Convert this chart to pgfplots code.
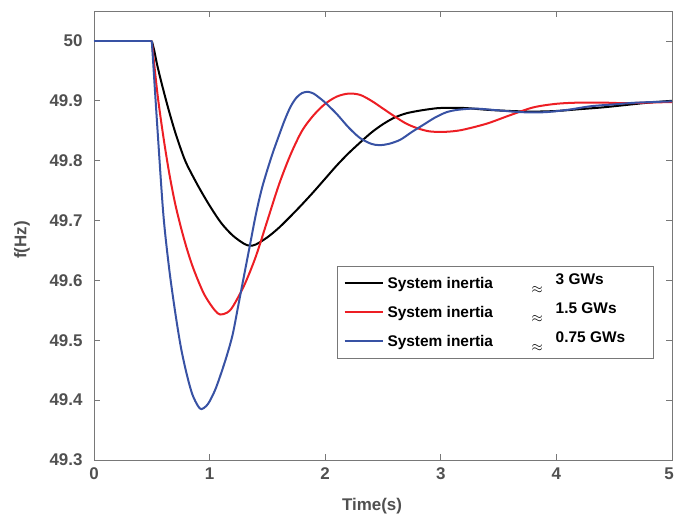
\documentclass[border=0pt]{standalone}
\usepackage{pgfplots}
\pgfplotsset{compat=1.18}
\usepackage{fontspec}
\setmainfont{Liberation Sans}
\definecolor{txtgray}{RGB}{80,80,80}
\definecolor{framegray}{RGB}{120,120,120}
\definecolor{cred}{RGB}{237,30,36}
\definecolor{cblue}{RGB}{56,82,164}
\newcommand{\lentry}[1]{\makebox[144bp][l]{System inertia}\raisebox{-5bp}{$\approx$}\hspace{13bp}\raisebox{4bp}{\fontsize{15.5}{17}\selectfont\makebox[88bp][l]{#1}}}
\begin{document}
\begin{tikzpicture}
\begin{axis}[
  at={(0,0)}, anchor=south west,
  scale only axis, width=578bp, height=449bp,
  xmin=0, xmax=5, ymin=49.3, ymax=50.05,
  xtick={0,1,2,3,4,5},
  xticklabels={0,1,2,3,4,5\kern6bp},
  ytick={49.3,49.4,49.5,49.6,49.7,49.8,49.9,50},
  yticklabels={49.3,49.4,49.5,49.6,49.7,49.8,49.9,50},
  tick pos=both, tick align=inside, major tick length=6bp,
  axis line style={framegray, line width=0.8bp},
  tick style={framegray, line width=0.8bp},
  /pgf/number format/assume math mode=true,
  ticklabel style={font=\fontsize{17}{20}\selectfont\bfseries, text=txtgray},
  yticklabel style={xshift=-8bp},
  xticklabel style={yshift=-4bp},
  xlabel={Time(s)}, ylabel={f(Hz)},
  label style={font=\fontsize{17}{20}\selectfont\bfseries, text=txtgray},
  xlabel style={at={(axis description cs:0.481,0)}, anchor=center, yshift=-46bp},
  ylabel style={at={(axis description cs:0,0.49)}, anchor=center, yshift=72bp},
  legend cell align=left,
  legend image code/.code={\draw[#1] (0bp,0bp) -- (38bp,0bp);},
  legend style={at={(rel axis cs:0.969,0.432)}, anchor=north east,
    draw=framegray, line width=0.8bp, fill=white,
    font=\fontsize{15.5}{18}\selectfont\bfseries, text=black,
    inner xsep=6bp, inner ysep=3bp, row sep=1bp,
    nodes={inner xsep=4bp, text height=17bp, text depth=7bp}},
  every axis plot/.append style={line width=2bp, line join=round},
]
\addplot[black, forget plot] coordinates {(0,50) (0.5,50)};
\addplot[cred, forget plot] coordinates {(0,50) (0.5,50)};
\addplot[cblue, forget plot] coordinates {(0,50) (0.5,50)};
\addplot[black, smooth, tension=0.5] coordinates {
(0.5,50) (0.52,49.985) (0.55,49.957) (0.6,49.918) (0.65,49.882) (0.7,49.849)
(0.75,49.82) (0.8,49.795) (0.9,49.758) (1.0,49.725) (1.1,49.696) (1.2,49.675)
(1.3,49.661) (1.35,49.658) (1.4,49.66) (1.5,49.672) (1.6,49.688) (1.7,49.707)
(1.8,49.727) (1.9,49.748) (2.0,49.77) (2.1,49.792) (2.2,49.812) (2.3,49.83)
(2.4,49.847) (2.5,49.861) (2.6,49.872) (2.7,49.879) (2.8,49.883) (2.9,49.886)
(3.0,49.888) (3.2,49.888) (3.4,49.885) (3.6,49.883) (3.8,49.882) (4.0,49.883)
(4.2,49.886) (4.4,49.889) (4.6,49.893) (4.8,49.897) (5.0,49.9)
};
\addlegendentry{\lentry{3 GWs}}
\addplot[cred, smooth, tension=0.5] coordinates {
(0.5,50) (0.55,49.91) (0.6,49.84) (0.65,49.78) (0.7,49.73) (0.75,49.69)
(0.8,49.655) (0.85,49.625) (0.9,49.60) (0.95,49.578) (1.0,49.562) (1.05,49.549)
(1.09,49.543) (1.15,49.546) (1.2,49.556) (1.3,49.592) (1.4,49.64) (1.5,49.70)
(1.6,49.76) (1.7,49.81) (1.8,49.85) (1.9,49.876) (2.0,49.895) (2.1,49.907)
(2.2,49.912) (2.3,49.91) (2.4,49.9) (2.5,49.887) (2.6,49.874) (2.7,49.862)
(2.8,49.854) (2.9,49.849) (3.0,49.848) (3.1,49.849) (3.2,49.852) (3.4,49.862)
(3.6,49.876) (3.8,49.889) (4.0,49.895) (4.2,49.897) (4.4,49.897) (4.6,49.896)
(4.8,49.897) (5.0,49.898)
};
\addlegendentry{\lentry{1.5 GWs}}
\addplot[cblue, smooth, tension=0.5] coordinates {
(0.5,50) (0.55,49.85) (0.6,49.71) (0.65,49.62) (0.7,49.55) (0.75,49.49)
(0.8,49.445) (0.85,49.41) (0.9,49.39) (0.93,49.385) (0.97,49.39) (1.0,49.398)
(1.05,49.418) (1.1,49.445) (1.15,49.475) (1.2,49.51) (1.25,49.56) (1.3,49.61)
(1.35,49.66) (1.4,49.71) (1.45,49.752) (1.5,49.785) (1.55,49.815) (1.6,49.842)
(1.65,49.868) (1.7,49.89) (1.75,49.905) (1.8,49.913) (1.85,49.915) (1.9,49.912)
(1.95,49.905) (2.0,49.897) (2.1,49.878) (2.2,49.856) (2.3,49.838) (2.4,49.828)
(2.47,49.826) (2.55,49.828) (2.65,49.835) (2.75,49.848) (2.85,49.86) (2.95,49.872)
(3.05,49.881) (3.15,49.885) (3.3,49.887) (3.5,49.884) (3.7,49.881) (3.9,49.881)
(4.1,49.885) (4.3,49.891) (4.5,49.894) (4.7,49.897) (5.0,49.899)
};
\addlegendentry{\lentry{0.75 GWs}}
\end{axis}
\pgfresetboundingbox
\useasboundingbox (-94bp,-56bp) rectangle (580bp,460bp);
\end{tikzpicture}
\end{document}
